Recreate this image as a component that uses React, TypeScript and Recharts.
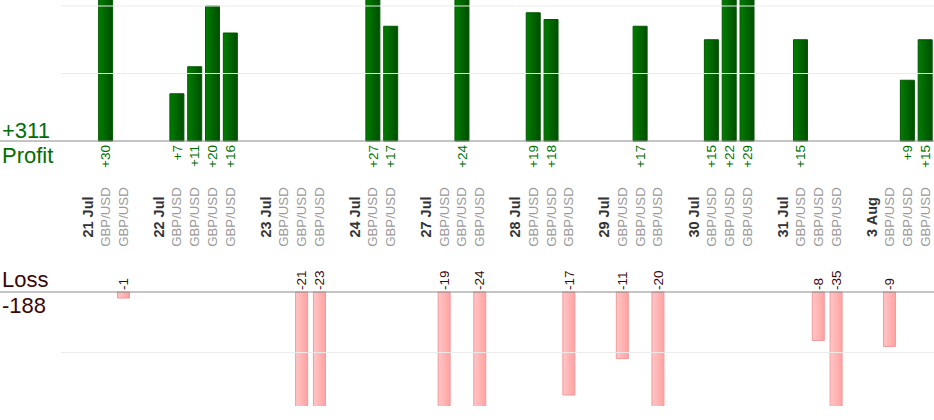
import React from 'react';
import { ComposedChart, Bar, XAxis, YAxis, ReferenceLine, LabelList } from 'recharts';

const dates = ['21 Jul', '22 Jul', '23 Jul', '24 Jul', '27 Jul', '28 Jul', '29 Jul', '30 Jul', '31 Jul', '3 Aug'];
const pair = 'GBP/USD';
// one inner array per day, one number per trade (pips)
const tradeResults = [
  [30, -1],
  [7, 11, 20, 16],
  [0, -21, -23],
  [27, 17],
  [-19, 24, -24],
  [19, 18, -17],
  [-11, 17, -20],
  [15, 22, 29],
  [15, -8, -35],
  [-9, 9, 15],
];
const profitGrid = [10, 20];
const lossGrid = [-10];

type Row = { key: string; kind: 'gap' | 'date' | 'trade'; label: string; profit: number | null; loss: number | null };

const rows: Row[] = [{ key: 'g0', kind: 'gap', label: '', profit: null, loss: null }];
dates.forEach((d, i) => {
  rows.push({ key: `d${i}`, kind: 'date', label: d, profit: null, loss: null });
  tradeResults[i].forEach((v, j) =>
    rows.push({ key: `t${i}-${j}`, kind: 'trade', label: pair, profit: v > 0 ? v : null, loss: v < 0 ? v : null })
  );
  if (i < dates.length - 1) rows.push({ key: `g${i + 1}`, kind: 'gap', label: '', profit: null, loss: null });
});
const rowByKey = new Map(rows.map((r) => [r.key, r]));

const allTrades = tradeResults.flat();
const profitTotal = allTrades.filter((v) => v > 0).reduce((a, b) => a + b, 0);
const lossTotal = allTrades.filter((v) => v < 0).reduce((a, b) => a + b, 0);

const FONT = '"Liberation Sans", Arial, sans-serif';
const GREEN = '#006e00';
const DARK_RED = '#3a0808';

const SlotTick = (props: any) => {
  const { x, payload } = props;
  const row = rowByKey.get(payload?.value);
  if (!row || row.kind === 'gap') return <g />;
  const y = 217;
  const isDate = row.kind === 'date';
  return (
    <text
      x={x}
      y={y}
      transform={`rotate(-90 ${x} ${y})`}
      textAnchor="middle"
      dy="0.35em"
      fontFamily={FONT}
      fontSize={isDate ? 14.5 : 13.2}
      fontWeight={isDate ? 'bold' : 'normal'}
      fill={isDate ? '#333333' : '#9a9a9a'}
    >
      {row.label}
    </text>
  );
};

const ProfitLabel = (props: any) => {
  const { value } = props;
  if (value == null) return null;
  const vb = props.viewBox ?? props;
  const cx = vb.x + vb.width / 2;
  const y = Math.max(vb.y, vb.y + vb.height) + 4;
  return (
    <text x={cx} y={y} transform={`rotate(-90 ${cx} ${y})`} textAnchor="end" dy="0.35em"
      fontFamily={FONT} fontSize={13.5} fill="#007000">
      +{value}
    </text>
  );
};

const LossLabel = (props: any) => {
  const { value } = props;
  if (value == null) return null;
  const vb = props.viewBox ?? props;
  const cx = vb.x + vb.width / 2;
  const y = Math.min(vb.y, vb.y + vb.height) - 2;
  return (
    <text x={cx} y={y} transform={`rotate(-90 ${cx} ${y})`} textAnchor="start" dy="0.35em"
      fontFamily={FONT} fontSize={13.5} fill={DARK_RED}>
      {value}
    </text>
  );
};

const baseline = (title: string, total: string, color: string, titleAbove: boolean) => (props: any) => {
  const { y1, x2 } = props;
  return (
    <g>
      <line x1={0} y1={y1} x2={x2} y2={y1} stroke="#8a8a8a" strokeWidth={1} />
      <text x={2} y={titleAbove ? y1 - 5 : y1 - 3} fontFamily={FONT} fontSize={22} fill={color}>
        {titleAbove ? title : total}
      </text>
      <text x={2} y={titleAbove ? y1 + 21 : y1 + 22} fontFamily={FONT} fontSize={22} fill={color}>
        {titleAbove ? total : title}
      </text>
    </g>
  );
};

const App: React.FC = () => {
  return (
    <div style={{ width: 934, height: 420 }}>
      <style>{'body{margin:0}'}</style>
      <ComposedChart width={934} height={420} data={rows} margin={{ top: 0, right: 0, bottom: 13, left: 61 }} barCategoryGap={0}>
        <defs>
          <linearGradient id="profitFill" x1="0" y1="0" x2="1" y2="0">
            <stop offset="0%" stopColor="#007d00" />
            <stop offset="100%" stopColor="#004e00" />
          </linearGradient>
          <linearGradient id="lossFill" x1="0" y1="0" x2="1" y2="0">
            <stop offset="0%" stopColor="#ffc6c6" />
            <stop offset="100%" stopColor="#ffa2a2" />
          </linearGradient>
        </defs>
        <XAxis xAxisId="p" dataKey="key" height={1} axisLine={false} tickLine={false} interval={0} tick={SlotTick} />
        <XAxis xAxisId="l" dataKey="key" hide />
        <YAxis yAxisId="p" hide domain={[-39.26, 20.89]} allowDataOverflow />
        <YAxis yAxisId="l" hide domain={[-18.81, 48.18]} allowDataOverflow />

        {profitGrid.map((v) => (
          <ReferenceLine key={`pg${v}`} xAxisId="p" yAxisId="p" y={v} stroke="#ebebeb" />
        ))}
        {lossGrid.map((v) => (
          <ReferenceLine key={`lg${v}`} xAxisId="l" yAxisId="l" y={v} stroke="#ebebeb" />
        ))}

        <Bar xAxisId="p" yAxisId="p" dataKey="profit" barSize={14} fill="url(#profitFill)" stroke="#005800" isAnimationActive={false}>
          <LabelList dataKey="profit" content={ProfitLabel} />
        </Bar>
        <Bar xAxisId="l" yAxisId="l" dataKey="loss" barSize={12} fill="url(#lossFill)" stroke="#f29a9a" isAnimationActive={false}>
          <LabelList dataKey="loss" content={LossLabel} />
        </Bar>

        <ReferenceLine xAxisId="p" yAxisId="p" y={0} shape={baseline('Profit', `+${profitTotal}`, GREEN, false)} />
        <ReferenceLine xAxisId="l" yAxisId="l" y={0} shape={baseline('Loss', `${lossTotal}`, DARK_RED, true)} />
      </ComposedChart>
    </div>
  );
};

export default App;
